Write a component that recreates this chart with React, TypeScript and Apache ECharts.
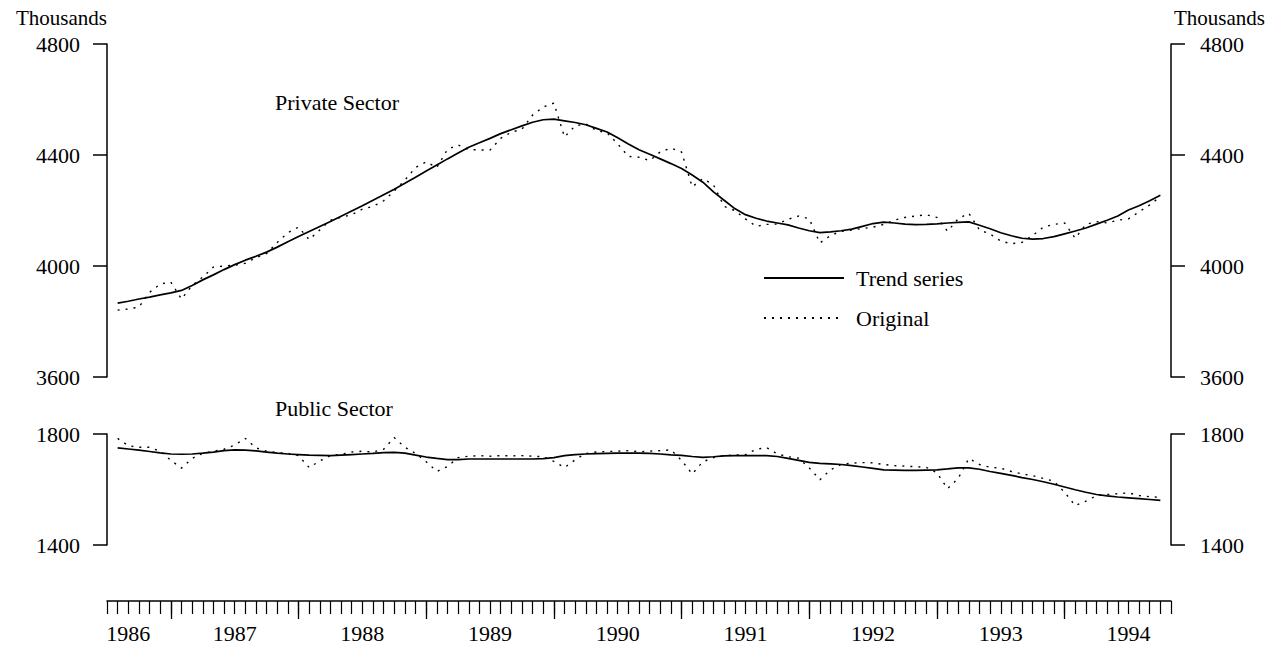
import React, { useEffect, useRef } from "react";
import * as echarts from "echarts";

// Month index: 0 = Jan 1986. Series start at Aug 1986 (index 7), monthly.
const START_MONTH = 7;
const AXIS_MIN = 6;
const AXIS_MAX = 106;

const yearTickMonths = [12, 24, 36, 48, 60, 72, 84, 96];
const yearLabelMonths = [8, 18, 30, 42, 54, 66, 78, 90, 102];

const privateTrend = [
  3866, 3873, 3881, 3888, 3896, 3903, 3912, 3930, 3950, 3968,
  3987, 4005, 4021, 4035, 4050, 4068, 4087, 4106, 4124, 4142,
  4160, 4179, 4198, 4217, 4237, 4257, 4277, 4298, 4320, 4342,
  4364, 4386, 4407, 4428, 4444, 4460, 4477, 4491, 4505, 4518,
  4527, 4529, 4523, 4517, 4509, 4496, 4483, 4462, 4440, 4419,
  4403, 4386, 4369, 4351, 4328, 4302, 4267, 4237, 4207, 4185,
  4172, 4162, 4155, 4148, 4137, 4127, 4120, 4123, 4127, 4133,
  4143, 4153, 4158, 4155, 4151, 4149, 4150, 4152, 4155, 4157,
  4159, 4147, 4134, 4120, 4109, 4100, 4097, 4099, 4106, 4116,
  4126, 4137, 4151, 4165, 4180, 4202, 4217, 4235, 4255,
];

const privateOriginal = [
  3841, 3845, 3852, 3905, 3935, 3942, 3881, 3930, 3960, 3996,
  4000, 4003, 4010, 4030, 4045, 4085, 4120, 4140, 4095, 4130,
  4165, 4175, 4185, 4205, 4215, 4235, 4270, 4310, 4355, 4375,
  4355, 4420, 4436, 4420, 4418, 4418, 4460, 4482, 4493, 4544,
  4573, 4587, 4465, 4505, 4512, 4488, 4480, 4440, 4395, 4392,
  4380, 4411, 4425, 4411, 4285, 4315, 4292, 4215, 4200, 4170,
  4143, 4150, 4151, 4168, 4180, 4170, 4083, 4110, 4125, 4130,
  4135, 4140, 4150, 4165, 4175, 4180, 4185, 4175, 4125, 4170,
  4190, 4130, 4115, 4090, 4080, 4085, 4110, 4140, 4150, 4155,
  4100, 4150, 4160, 4155, 4165, 4170, 4195, 4220, 4250,
];

const publicTrend = [
  1750, 1746, 1742, 1737, 1732, 1728, 1727, 1728, 1731, 1735,
  1740, 1743, 1742, 1739, 1735, 1731, 1728, 1726, 1724, 1723,
  1722, 1724, 1726, 1728, 1730, 1733, 1734, 1731, 1724, 1717,
  1712, 1708, 1708, 1710, 1710, 1710, 1710, 1710, 1710, 1710,
  1711, 1715, 1722, 1726, 1728, 1729, 1730, 1731, 1731, 1731,
  1730, 1728, 1725, 1723, 1719, 1716, 1718, 1721, 1722, 1722,
  1722, 1722, 1719, 1712, 1705, 1698, 1694, 1692, 1690, 1686,
  1681, 1676, 1671, 1670, 1669, 1669, 1670, 1671, 1674, 1678,
  1678, 1673, 1665, 1658, 1651, 1643, 1636, 1628, 1619, 1609,
  1599, 1590, 1582, 1577, 1573, 1570, 1567, 1564, 1561,
];

const publicOriginal = [
  1784, 1758, 1752, 1752, 1738, 1705, 1677, 1712, 1730, 1738,
  1745, 1760, 1784, 1750, 1738, 1733, 1730, 1722, 1679, 1703,
  1722, 1727, 1735, 1738, 1735, 1745, 1787, 1752, 1730, 1700,
  1665, 1683, 1715, 1720, 1722, 1720, 1722, 1721, 1722, 1720,
  1718, 1701, 1679, 1707, 1730, 1735, 1737, 1738, 1740, 1736,
  1738, 1740, 1743, 1705, 1656, 1700, 1715, 1722, 1724, 1725,
  1745, 1751, 1728, 1718, 1713, 1678, 1635, 1671, 1690, 1695,
  1697, 1696, 1690, 1686, 1684, 1682, 1680, 1660, 1603, 1640,
  1712, 1690, 1680, 1677, 1665, 1656, 1650, 1640, 1630, 1590,
  1542, 1558, 1578, 1582, 1585, 1588, 1578, 1574, 1572,
];

const FONT = '"Liberation Serif", "Times New Roman", serif';
const FS = 22;

const toPoints = (vals: number[]) => vals.map((v, k) => [START_MONTH + k, v]);

function yAxis(gridIndex: number, position: "left" | "right", min: number, max: number) {
  return {
    type: "value",
    gridIndex,
    position,
    min,
    max,
    interval: 400,
    axisLine: { show: true, onZero: false, lineStyle: { color: "#000", width: 1.5 } },
    axisTick: { show: true, inside: false, length: 14, lineStyle: { color: "#000", width: 1.5 } },
    axisLabel: {
      color: "#000",
      fontSize: FS,
      fontFamily: FONT,
      margin: position === "left" ? 27 : 29,
      formatter: (v: number) => String(v),
    },
    splitLine: { show: false },
  };
}

export default function App() {
  const ref = useRef<HTMLDivElement>(null);
  useEffect(() => {
    if (!ref.current) return;
    const chart = echarts.init(ref.current, undefined, { renderer: "svg" });
    const monthTicks: number[] = [];
    for (let m = AXIS_MIN; m <= AXIS_MAX; m++) monthTicks.push(m);

    const trendLine = { color: "#000", width: 1.7 };
    const origLine = { color: "#000", width: 1.4, type: [2, 6] as any };

    chart.setOption({
      animation: false,
      backgroundColor: "#fff",
      grid: [
        { left: 107, right: 107, top: 44, height: 333 },
        { left: 107, right: 107, top: 434, height: 111 },
      ],
      xAxis: [
        {
          type: "value",
          gridIndex: 0,
          min: AXIS_MIN,
          max: AXIS_MAX,
          position: "bottom",
          offset: 224,
          axisLine: { show: false, onZero: false },
          axisTick: { show: true, customValues: yearTickMonths, length: 18, lineStyle: { color: "#000", width: 1.3 } },
          axisLabel: { show: false },
          splitLine: { show: false },
        },
        {
          type: "value",
          gridIndex: 1,
          min: AXIS_MIN,
          max: AXIS_MAX,
          position: "bottom",
          offset: 56,
          axisLine: { show: true, onZero: false, lineStyle: { color: "#000", width: 1.5 } },
          axisTick: { show: true, customValues: monthTicks, length: 13, lineStyle: { color: "#000", width: 1.2 } },
          axisLabel: {
            show: true,
            customValues: yearLabelMonths,
            formatter: (v: number) => String(1985 + Math.floor((v + 6) / 12)),
            color: "#000",
            fontSize: FS,
            fontFamily: FONT,
            margin: 21,
          },
          splitLine: { show: false },
        },
      ],
      yAxis: [
        yAxis(0, "left", 3600, 4800),
        yAxis(0, "right", 3600, 4800),
        yAxis(1, "left", 1400, 1800),
        yAxis(1, "right", 1400, 1800),
      ],
      legend: {
        orient: "vertical",
        left: 758,
        top: 262,
        itemWidth: 80,
        itemHeight: 14,
        itemGap: 18,
        itemStyle: { opacity: 0 },
        textStyle: { color: "#000", fontSize: FS, fontFamily: FONT, padding: [0, 0, 0, 7] },
        data: ["Trend series", "Original"],
      },
      graphic: [
        {
          type: "text",
          x: 107,
          y: 18,
          style: { text: "Thousands", font: `${FS - 1}px ${FONT}`, fill: "#000", align: "right", verticalAlign: "middle", textAlign: "right", textVerticalAlign: "middle" },
        },
        {
          type: "text",
          x: 1174,
          y: 18,
          style: { text: "Thousands", font: `${FS - 1}px ${FONT}`, fill: "#000", align: "left", verticalAlign: "middle", textAlign: "left", textVerticalAlign: "middle" },
        },
        {
          type: "text",
          x: 275,
          y: 102,
          style: { text: "Private Sector", font: `${FS}px ${FONT}`, fill: "#000", align: "left", verticalAlign: "middle", textAlign: "left", textVerticalAlign: "middle" },
        },
        {
          type: "text",
          x: 275,
          y: 408,
          style: { text: "Public Sector", font: `${FS}px ${FONT}`, fill: "#000", align: "left", verticalAlign: "middle", textAlign: "left", textVerticalAlign: "middle" },
        },
      ],
      series: [
        { type: "line", name: "Trend series", xAxisIndex: 0, yAxisIndex: 0, data: toPoints(privateTrend), symbol: "none", lineStyle: trendLine, itemStyle: { color: "#000" } },
        { type: "line", name: "Original", xAxisIndex: 0, yAxisIndex: 0, data: toPoints(privateOriginal), symbol: "none", lineStyle: origLine, itemStyle: { color: "#000" } },
        { type: "line", name: "Trend series", xAxisIndex: 1, yAxisIndex: 2, data: toPoints(publicTrend), symbol: "none", lineStyle: trendLine, itemStyle: { color: "#000" } },
        { type: "line", name: "Original", xAxisIndex: 1, yAxisIndex: 2, data: toPoints(publicOriginal), symbol: "none", lineStyle: origLine, itemStyle: { color: "#000" } },
      ],
    });
    return () => chart.dispose();
  }, []);
  return (
    <div
      ref={ref}
      style={{ position: "fixed", left: 0, top: 0, width: 1278, height: 649, background: "#fff" }}
    />
  );
}
